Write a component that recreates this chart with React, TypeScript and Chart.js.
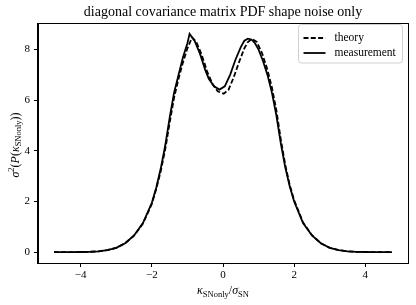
import React, { useEffect, useRef } from "react";
import { Chart, registerables } from "chart.js";

Chart.register(...registerables);

const kappaMeas = [-4.75, -4.5, -4.25, -4, -3.75, -3.5, -3.25, -3, -2.75, -2.5, -2.25, -2, -1.875, -1.75, -1.625, -1.5, -1.375, -1.25, -1.125, -1, -0.94, -0.8, -0.65, -0.5, -0.4, -0.25, -0.1, 0.05, 0.2, 0.35, 0.5, 0.6, 0.7, 0.8, 0.9, 1.0, 1.125, 1.25, 1.375, 1.5, 1.625, 1.75, 1.875, 2, 2.25, 2.5, 2.75, 3, 3.25, 3.5, 3.75, 4, 4.25, 4.5, 4.75];
const pdfMeas = [0, 0, 0.002, 0.005, 0.012, 0.03, 0.08, 0.17, 0.35, 0.66, 1.15, 1.95, 2.55, 3.3, 4.2, 5.3, 6.3, 7.0, 7.7, 8.25, 8.62, 8.35, 7.85, 7.2, 6.85, 6.55, 6.42, 6.55, 7.0, 7.6, 8.1, 8.35, 8.43, 8.4, 8.25, 8.0, 7.55, 7.0, 6.3, 5.4, 4.3, 3.35, 2.6, 2.0, 1.15, 0.66, 0.35, 0.17, 0.08, 0.03, 0.012, 0.005, 0.002, 0, 0];

const kappaTheory = [-4.75, -4.5, -4.25, -4, -3.75, -3.5, -3.25, -3, -2.75, -2.5, -2.25, -2, -1.875, -1.75, -1.625, -1.5, -1.375, -1.25, -1.125, -1, -0.87, -0.75, -0.6, -0.45, -0.3, -0.15, 0.02, 0.15, 0.3, 0.45, 0.6, 0.7, 0.81, 0.95, 1.1, 1.25, 1.375, 1.5, 1.625, 1.75, 1.875, 2, 2.25, 2.5, 2.75, 3, 3.25, 3.5, 3.75, 4, 4.25, 4.5, 4.75];
const pdfTheory = [0, 0, 0.002, 0.005, 0.012, 0.03, 0.08, 0.17, 0.35, 0.65, 1.13, 1.9, 2.5, 3.2, 4.05, 5.1, 6.1, 6.85, 7.5, 8.05, 8.48, 8.3, 7.8, 7.15, 6.65, 6.35, 6.26, 6.4, 6.9, 7.5, 8.05, 8.3, 8.42, 8.3, 7.85, 7.2, 6.5, 5.6, 4.45, 3.45, 2.65, 2.05, 1.17, 0.67, 0.35, 0.17, 0.08, 0.03, 0.012, 0.005, 0.002, 0, 0];

const xTicks = [-4, -2, 0, 2, 4];
const yTicks = [0, 2, 4, 6, 8];
const seriesLabels = ["theory", "measurement"];
const titleText = "diagonal covariance matrix PDF shape noise only";

const SERIF = "'Liberation Serif', 'DejaVu Serif', serif";

type Part = { t: string; style?: string; size: number; dy?: number };

function drawParts(ctx: CanvasRenderingContext2D, parts: Part[], cx: number, cy: number) {
  let total = 0;
  const widths: number[] = [];
  for (const p of parts) {
    ctx.font = `${p.style || ""} ${p.size}px ${SERIF}`;
    const w = ctx.measureText(p.t).width;
    widths.push(w);
    total += w;
  }
  let x = cx - total / 2;
  ctx.textBaseline = "alphabetic";
  ctx.textAlign = "left";
  parts.forEach((p, i) => {
    ctx.font = `${p.style || ""} ${p.size}px ${SERIF}`;
    ctx.fillText(p.t, x, cy + (p.dy || 0));
    x += widths[i];
  });
}

const framePlugin = {
  id: "frameAndLabels",
  afterDraw(chart: any) {
    const { ctx, chartArea } = chart;
    const { left, right, top, bottom } = chartArea;
    ctx.save();
    ctx.strokeStyle = "#000";
    ctx.lineWidth = 1;
    ctx.strokeRect(Math.round(left) + 0.5 - 1, Math.round(top) + 0.5, Math.round(right) - Math.round(left) + 1, Math.round(bottom) - Math.round(top));
    ctx.fillStyle = "#000";

    // title
    ctx.font = `14px ${SERIF}`;
    ctx.textAlign = "center";
    ctx.textBaseline = "middle";
    ctx.fillText(titleText, (left + right) / 2, 12.5);

    // x-axis title
    const cx = (left + right) / 2;
    drawParts(ctx, [
      { t: "κ", style: "italic", size: 12 },
      { t: "SNonly", size: 8.5, dy: 2.5 },
      { t: "/", size: 12 },
      { t: "σ", style: "italic", size: 12 },
      { t: "SN", size: 8.5, dy: 2.5 },
    ], cx, 294);

    // y-axis title
    ctx.save();
    ctx.translate(18.5, (top + bottom) / 2 + 2);
    ctx.rotate(-Math.PI / 2);
    drawParts(ctx, [
      { t: "σ", style: "italic", size: 12 },
      { t: "2", size: 8.5, dy: -5 },
      { t: "(", size: 12 },
      { t: "P", style: "italic", size: 12 },
      { t: "(", size: 12 },
      { t: "κ", style: "italic", size: 12 },
      { t: "SNonly", size: 8.5, dy: 2.5 },
      { t: "))", size: 12 },
    ], 0, 0);
    ctx.restore();

    // legend
    const bw = 104, bh = 38.5;
    const bx = right - 6 - bw + 0.5, by = top + 1.5;
    ctx.beginPath();
    (ctx as any).roundRect(bx, by, bw, bh, 3);
    ctx.fillStyle = "rgba(255,255,255,0.8)";
    ctx.fill();
    ctx.strokeStyle = "#d0d0d0";
    ctx.lineWidth = 1;
    ctx.stroke();
    const ds = chart.data.datasets;
    ds.forEach((d: any, i: number) => {
      const yy = by + 13.5 + i * 15;
      ctx.beginPath();
      ctx.setLineDash(d.borderDash || []);
      ctx.strokeStyle = d.borderColor;
      ctx.lineWidth = d.borderWidth;
      ctx.moveTo(bx + 5, yy);
      ctx.lineTo(bx + 27, yy);
      ctx.stroke();
      ctx.setLineDash([]);
      ctx.fillStyle = "#000";
      ctx.font = `11.5px ${SERIF}`;
      ctx.textBaseline = "middle";
      ctx.textAlign = "left";
      ctx.fillText(d.label, bx + 36, yy);
    });
    ctx.restore();
  },
};

function fmt(v: number) {
  return v < 0 ? "\u2212" + Math.abs(v) : String(v);
}

export default function App() {
  const ref = useRef<HTMLCanvasElement | null>(null);
  useEffect(() => {
    document.body.style.margin = "0";
    if (!ref.current) return;
    const chart = new Chart(ref.current, {
      type: "line",
      data: {
        datasets: [
          {
            label: seriesLabels[0],
            data: kappaTheory.map((x, i) => ({ x, y: pdfTheory[i] })),
            borderColor: "#000",
            borderWidth: 1.8,
            borderDash: [5, 2.3],
            pointRadius: 0,
            tension: 0,
            fill: false,
          },
          {
            label: seriesLabels[1],
            data: kappaMeas.map((x, i) => ({ x, y: pdfMeas[i] })),
            borderColor: "#000",
            borderWidth: 1.8,
            pointRadius: 0,
            tension: 0,
            fill: false,
          },
        ],
      },
      options: {
        animation: false,
        responsive: false,
        layout: { padding: { left: 0, right: 8, top: 23, bottom: 0 } },
        plugins: {
          legend: { display: false },
          tooltip: { enabled: false },
          title: { display: false },
        },
        scales: {
          x: {
            type: "linear",
            min: -5.2,
            max: 5.2,
            afterBuildTicks: (s: any) => { s.ticks = xTicks.map((v) => ({ value: v })); },
            afterFit: (s: any) => { s.height = 42; },
            grid: { display: true, drawOnChartArea: false, drawTicks: true, tickLength: 4, color: "#000", tickWidth: 1 },
            border: { display: true, color: "#000", width: 1 },
            ticks: { color: "#000", font: { family: SERIF, size: 11 }, padding: 2, maxRotation: 0, callback: (v: any) => fmt(Number(v)) },
          },
          y: {
            type: "linear",
            min: -0.43,
            max: 9.05,
            afterBuildTicks: (s: any) => { s.ticks = yTicks.map((v) => ({ value: v })); },
            afterFit: (s: any) => { s.width = 38; },
            grid: { display: true, drawOnChartArea: false, drawTicks: true, tickLength: 4, color: "#000", tickWidth: 1 },
            border: { display: true, color: "#000", width: 1 },
            ticks: { color: "#000", font: { family: SERIF, size: 11 }, padding: 4, callback: (v: any) => fmt(Number(v)) },
          },
        },
      },
      plugins: [framePlugin],
    });
    return () => chart.destroy();
  }, []);
  return (
    <div style={{ position: "absolute", left: 0, top: 0, width: 416, height: 305, background: "#fff" }}>
      <canvas ref={ref} width={416} height={305} style={{ width: 416, height: 305 }} />
    </div>
  );
}
